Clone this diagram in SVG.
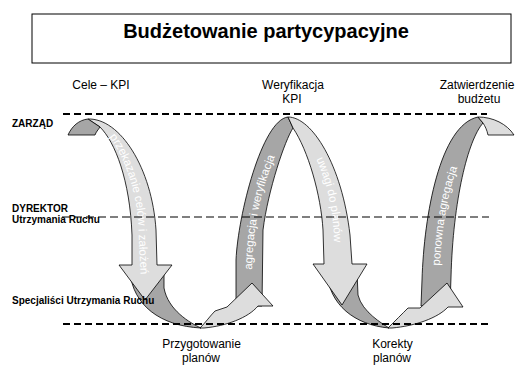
<svg xmlns="http://www.w3.org/2000/svg" xmlns:xlink="http://www.w3.org/1999/xlink" width="516" height="365" viewBox="0 0 516 365">
<style>
text{font-family:"Liberation Sans",Arial,sans-serif;fill:#000}
.lbl{font-size:12px;text-anchor:middle}
.lvl{font-size:10px;font-weight:bold}
.band{font-size:11.5px;fill:#fff}
.lt{fill:#dddddd;stroke:#000;stroke-width:0.8;stroke-linejoin:round}
.dk{fill:#a6a6a6;stroke:#000;stroke-width:0.8;stroke-linejoin:round}
.dash{fill:none;stroke:#000}
</style>
<defs>
<path id="p1" d="M104,131 C116,143 134,175 138,220 L141,285"/>
<path id="p2" d="M252,274 C253,220 262,180 288,128"/>
<path id="p3" d="M312,150 C322,170 333,200 334,240 L335,280"/>
<path id="p4" d="M439,284 C441,228 447,180 474,130"/>
</defs>
<rect fill="#fff" width="516" height="365"/>
<g id="title">
<rect x="32" y="14" width="479" height="49" fill="#fff" stroke="#000" stroke-width="1"/>
<text x="266" y="38" style="font-size:20px;font-weight:bold;text-anchor:middle">Budżetowanie partycypacyjne</text>
</g>
<g id="labels">
<text class="lbl" x="101" y="89">Cele – KPI</text>
<text class="lbl" x="293" y="89">Weryfikacja</text>
<text class="lbl" x="292" y="103">KPI</text>
<text class="lbl" x="477" y="89">Zatwierdzenie</text>
<text class="lbl" x="479" y="103">budżetu</text>
<text class="lbl" x="201.5" y="348">Przygotowanie</text>
<text class="lbl" x="201" y="362">planów</text>
<text class="lbl" x="392.5" y="348">Korekty</text>
<text class="lbl" x="392" y="362">planów</text>
</g>
<g id="connectors">
<path class="dk" d="M130,272 C133,305 160,326 201,328 C190,323 168,310 164,288 L164,272 Z"/>
<path class="dk" d="M327,272 C329,305 355,325 389,328 C383,324 362,312 358,295 L357,272 Z"/>
<path class="lt" d="M88,119 C120,118 152,168 156,230 L157,265 L172,265 L145,300 L119,265 L132,265 L132,235 C130,180 115,142 100,127 Z"/>
<path class="dk" d="M88,119 C79,120 72,126 68,135 L95,135 C96,132 98,130 100,127 Z"/>
<path class="dk" d="M236,306 L236,260 C238,215 262,120 288,117 L293,128 C285,140 268,190 263,230 L262,306 Z"/>
<path class="lt" d="M288,117 C312,117 342,165 350,235 L352,264 L367,264 L342,305 L313,264 L324,264 L323,230 C321,195 308,150 293,128 Z"/>
<path class="lt" d="M200,328 C206,322 210,316 215,311 L227,307 L252,283 L273,306 L258,306 C248,318 226,326 204,328 Z"/>
<path class="dk" d="M421,306 L422,280 C424,215 440,125 478,117 L483,123 C468,140 453,200 451,277 L450,305 Z"/>
<path class="lt" d="M478,117 C493,117 507,124 514,135 L488,135 C487,130 485,126 483,123 Z"/>
<path class="lt" d="M388,328 C395,321 402,314 408,308 L420,308 L447,283 L463,307 L448,307 C438,318 415,326 392,328 Z"/>
<text class="band"><textPath xlink:href="#p1" startOffset="8">przekazanie celów i założeń</textPath></text>
<text class="band"><textPath xlink:href="#p2" startOffset="4">agregacja i weryfikacja</textPath></text>
<text class="band"><textPath xlink:href="#p3" startOffset="10">uwagi do planów</textPath></text>
<text class="band"><textPath xlink:href="#p4" startOffset="18">ponowna agregacja</textPath></text>
</g>
<g id="levels">
<path class="dash" d="M63,114 H487" stroke-width="1.8" stroke-dasharray="7 4"/>
<path class="dash" d="M62,217 H489" stroke-width="1.1" stroke-dasharray="8 4"/>
<path class="dash" d="M63,324 H489" stroke-width="1.8" stroke-dasharray="7 4"/>
<text class="lvl" x="12" y="127">ZARZĄD</text>
<text class="lvl" x="12" y="212">DYREKTOR</text>
<text class="lvl" x="12" y="223">Utrzymania Ruchu</text>
<text class="lvl" x="12" y="304">Specjaliści Utrzymania Ruchu</text>
</g>
</svg>
